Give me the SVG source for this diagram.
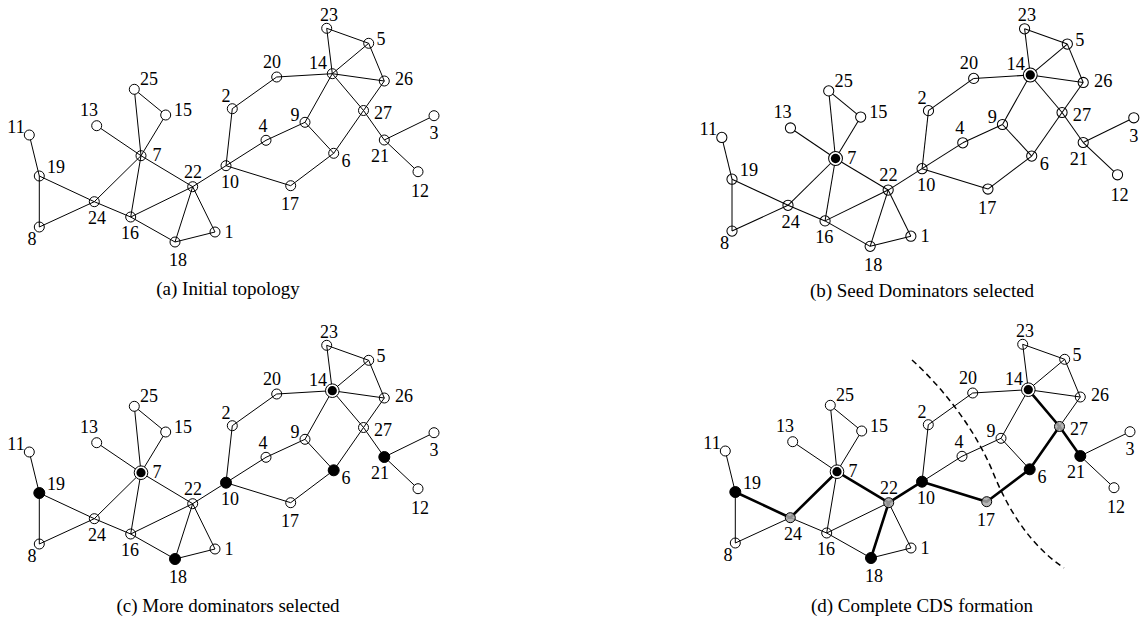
<svg xmlns="http://www.w3.org/2000/svg" xmlns:xlink="http://www.w3.org/1999/xlink" width="1140" height="621" viewBox="0 0 1140 621">
<style>
  .thick line { stroke: #000; stroke-width: 2.6; stroke-linecap: round; }
  .n circle { fill: none; stroke: #000; stroke-width: 1; }
  .n.leaf circle { fill: #fff; }
  .n.dom circle { fill: #000; }
  .n.con circle { fill: #a8a8a8; fill-opacity: 0.85; }
  .n.seed circle.ring { fill: #fff; }
  .n.seed circle.core { fill: #000; stroke: none; }
  text { font-family: "Liberation Serif", "Times New Roman", serif; fill: #000; }
  .lbl { font-size: 18px; text-anchor: middle; }
  .cap { font-size: 19px; text-anchor: middle; }
  .cut { fill: none; stroke: #000; stroke-width: 1.5; stroke-dasharray: 6 4; }
</style>
<defs>
  <!-- link set shared by every panel -->
  <g id="links" stroke="#000" stroke-width="1" fill="none">
    <line x1="29.3" y1="135" x2="39.3" y2="176"/>
    <line x1="39.3" y1="176" x2="39.3" y2="227"/>
    <line x1="39.3" y1="176" x2="94.3" y2="201.7"/>
    <line x1="39.3" y1="227" x2="94.3" y2="201.7"/>
    <line x1="94.3" y1="201.7" x2="141" y2="155.7"/>
    <line x1="94.3" y1="201.7" x2="130.7" y2="217"/>
    <line x1="96.7" y1="125.7" x2="141" y2="155.7"/>
    <line x1="134.3" y1="89.3" x2="141" y2="155.7"/>
    <line x1="134.3" y1="89.3" x2="165.7" y2="115"/>
    <line x1="165.7" y1="115" x2="141" y2="155.7"/>
    <line x1="141" y1="155.7" x2="130.7" y2="217"/>
    <line x1="141" y1="155.7" x2="192.7" y2="186.7"/>
    <line x1="130.7" y1="217" x2="192.7" y2="186.7"/>
    <line x1="130.7" y1="217" x2="175" y2="242"/>
    <line x1="192.7" y1="186.7" x2="175" y2="242"/>
    <line x1="192.7" y1="186.7" x2="215" y2="232"/>
    <line x1="175" y1="242" x2="215" y2="232"/>
    <line x1="192.7" y1="186.7" x2="226" y2="165.7"/>
    <line x1="232.3" y1="108.7" x2="226" y2="165.7"/>
    <line x1="232.3" y1="108.7" x2="276.7" y2="77"/>
    <line x1="276.7" y1="77" x2="332.3" y2="73.7"/>
    <line x1="226" y1="165.7" x2="266" y2="140.3"/>
    <line x1="266" y1="140.3" x2="305" y2="122.3"/>
    <line x1="226" y1="165.7" x2="290.7" y2="185.7"/>
    <line x1="290.7" y1="185.7" x2="333.7" y2="153.3"/>
    <line x1="305" y1="122.3" x2="333.7" y2="153.3"/>
    <line x1="305" y1="122.3" x2="332.3" y2="73.7"/>
    <line x1="332.3" y1="73.7" x2="326.7" y2="28.3"/>
    <line x1="326.7" y1="28.3" x2="368.7" y2="43.3"/>
    <line x1="368.7" y1="43.3" x2="332.3" y2="73.7"/>
    <line x1="368.7" y1="43.3" x2="384.3" y2="81"/>
    <line x1="332.3" y1="73.7" x2="384.3" y2="81"/>
    <line x1="332.3" y1="73.7" x2="363.5" y2="110.5"/>
    <line x1="363.5" y1="110.5" x2="384.3" y2="140"/>
    <line x1="384.3" y1="81" x2="363.5" y2="110.5"/>
    <line x1="363.5" y1="110.5" x2="333.7" y2="153.3"/>
    <line x1="384.3" y1="140" x2="434" y2="115.7"/>
    <line x1="384.3" y1="140" x2="418" y2="171.7"/>
  </g>
</defs>

<!-- (a) initial topology -->
<g id="panel-a">
  <g id="a-edges" class="edges"><use xlink:href="#links" href="#links"/></g>
  <g id="a-n11" class="n leaf"><circle cx="29.3" cy="135" r="5"/><text class="lbl" x="16" y="133">11</text></g>
  <g id="a-n19" class="n"><circle cx="39.3" cy="176" r="5"/><text class="lbl" x="56" y="173">19</text></g>
  <g id="a-n8" class="n"><circle cx="39.3" cy="227" r="5"/><text class="lbl" x="32" y="245">8</text></g>
  <g id="a-n24" class="n"><circle cx="94.3" cy="201.7" r="5"/><text class="lbl" x="97" y="224">24</text></g>
  <g id="a-n13" class="n leaf"><circle cx="96.7" cy="125.7" r="5"/><text class="lbl" x="89" y="116">13</text></g>
  <g id="a-n25" class="n leaf"><circle cx="134.3" cy="89.3" r="5"/><text class="lbl" x="149" y="85">25</text></g>
  <g id="a-n15" class="n leaf"><circle cx="165.7" cy="115" r="5"/><text class="lbl" x="183" y="116">15</text></g>
  <g id="a-n7" class="n"><circle cx="141" cy="155.7" r="5"/><text class="lbl" x="157" y="161">7</text></g>
  <g id="a-n16" class="n"><circle cx="130.7" cy="217" r="5"/><text class="lbl" x="130" y="239">16</text></g>
  <g id="a-n22" class="n"><circle cx="192.7" cy="186.7" r="5"/><text class="lbl" x="193" y="178">22</text></g>
  <g id="a-n18" class="n"><circle cx="175" cy="242" r="5"/><text class="lbl" x="178" y="266">18</text></g>
  <g id="a-n1" class="n"><circle cx="215" cy="232" r="5"/><text class="lbl" x="229" y="238">1</text></g>
  <g id="a-n2" class="n"><circle cx="232.3" cy="108.7" r="5"/><text class="lbl" x="226" y="102">2</text></g>
  <g id="a-n10" class="n"><circle cx="226" cy="165.7" r="5"/><text class="lbl" x="230" y="188">10</text></g>
  <g id="a-n23" class="n"><circle cx="326.7" cy="28.3" r="5"/><text class="lbl" x="329" y="21">23</text></g>
  <g id="a-n5" class="n"><circle cx="368.7" cy="43.3" r="5"/><text class="lbl" x="381" y="45">5</text></g>
  <g id="a-n20" class="n"><circle cx="276.7" cy="77" r="5"/><text class="lbl" x="272" y="68">20</text></g>
  <g id="a-n14" class="n"><circle cx="332.3" cy="73.7" r="5"/><text class="lbl" x="318" y="69">14</text></g>
  <g id="a-n26" class="n"><circle cx="384.3" cy="81" r="5"/><text class="lbl" x="404" y="85">26</text></g>
  <g id="a-n27" class="n"><circle cx="363.5" cy="110.5" r="5"/><text class="lbl" x="383" y="119">27</text></g>
  <g id="a-n3" class="n leaf"><circle cx="434" cy="115.7" r="5"/><text class="lbl" x="434" y="139">3</text></g>
  <g id="a-n9" class="n"><circle cx="305" cy="122.3" r="5"/><text class="lbl" x="295" y="121">9</text></g>
  <g id="a-n4" class="n"><circle cx="266" cy="140.3" r="5"/><text class="lbl" x="263" y="132">4</text></g>
  <g id="a-n21" class="n"><circle cx="384.3" cy="140" r="5"/><text class="lbl" x="380" y="162">21</text></g>
  <g id="a-n6" class="n"><circle cx="333.7" cy="153.3" r="5"/><text class="lbl" x="346" y="167">6</text></g>
  <g id="a-n17" class="n"><circle cx="290.7" cy="185.7" r="5"/><text class="lbl" x="290" y="210">17</text></g>
  <g id="a-n12" class="n leaf"><circle cx="418" cy="171.7" r="5"/><text class="lbl" x="420" y="197">12</text></g>
</g>

<!-- (b) seed dominators -->
<g id="panel-b" transform="translate(692,0) scale(1.018)">
  <g id="b-edges" class="edges"><use xlink:href="#links" href="#links"/></g>
  <g id="b-n11" class="n leaf"><circle cx="29.3" cy="135" r="5"/><text class="lbl" x="16" y="133">11</text></g>
  <g id="b-n19" class="n"><circle cx="39.3" cy="176" r="5"/><text class="lbl" x="56" y="173">19</text></g>
  <g id="b-n8" class="n"><circle cx="39.3" cy="227" r="5"/><text class="lbl" x="32" y="245">8</text></g>
  <g id="b-n24" class="n"><circle cx="94.3" cy="201.7" r="5"/><text class="lbl" x="97" y="224">24</text></g>
  <g id="b-n13" class="n leaf"><circle cx="96.7" cy="125.7" r="5"/><text class="lbl" x="89" y="116">13</text></g>
  <g id="b-n25" class="n leaf"><circle cx="134.3" cy="89.3" r="5"/><text class="lbl" x="149" y="85">25</text></g>
  <g id="b-n15" class="n leaf"><circle cx="165.7" cy="115" r="5"/><text class="lbl" x="183" y="116">15</text></g>
  <g id="b-n7" class="n seed"><circle class="ring" cx="141" cy="155.7" r="6.8"/><circle class="core" cx="141" cy="155.7" r="4.6"/><text class="lbl" x="157" y="161">7</text></g>
  <g id="b-n16" class="n"><circle cx="130.7" cy="217" r="5"/><text class="lbl" x="130" y="239">16</text></g>
  <g id="b-n22" class="n"><circle cx="192.7" cy="186.7" r="5"/><text class="lbl" x="193" y="178">22</text></g>
  <g id="b-n18" class="n"><circle cx="175" cy="242" r="5"/><text class="lbl" x="178" y="266">18</text></g>
  <g id="b-n1" class="n"><circle cx="215" cy="232" r="5"/><text class="lbl" x="229" y="238">1</text></g>
  <g id="b-n2" class="n"><circle cx="232.3" cy="108.7" r="5"/><text class="lbl" x="226" y="102">2</text></g>
  <g id="b-n10" class="n"><circle cx="226" cy="165.7" r="5"/><text class="lbl" x="230" y="188">10</text></g>
  <g id="b-n23" class="n"><circle cx="326.7" cy="28.3" r="5"/><text class="lbl" x="329" y="21">23</text></g>
  <g id="b-n5" class="n"><circle cx="368.7" cy="43.3" r="5"/><text class="lbl" x="381" y="45">5</text></g>
  <g id="b-n20" class="n"><circle cx="276.7" cy="77" r="5"/><text class="lbl" x="272" y="68">20</text></g>
  <g id="b-n14" class="n seed"><circle class="ring" cx="332.3" cy="73.7" r="6.8"/><circle class="core" cx="332.3" cy="73.7" r="4.6"/><text class="lbl" x="318" y="69">14</text></g>
  <g id="b-n26" class="n"><circle cx="384.3" cy="81" r="5"/><text class="lbl" x="404" y="85">26</text></g>
  <g id="b-n27" class="n"><circle cx="363.5" cy="110.5" r="5"/><text class="lbl" x="383" y="119">27</text></g>
  <g id="b-n3" class="n leaf"><circle cx="434" cy="115.7" r="5"/><text class="lbl" x="434" y="139">3</text></g>
  <g id="b-n9" class="n"><circle cx="305" cy="122.3" r="5"/><text class="lbl" x="295" y="121">9</text></g>
  <g id="b-n4" class="n"><circle cx="266" cy="140.3" r="5"/><text class="lbl" x="263" y="132">4</text></g>
  <g id="b-n21" class="n"><circle cx="384.3" cy="140" r="5"/><text class="lbl" x="380" y="162">21</text></g>
  <g id="b-n6" class="n"><circle cx="333.7" cy="153.3" r="5"/><text class="lbl" x="346" y="167">6</text></g>
  <g id="b-n17" class="n"><circle cx="290.7" cy="185.7" r="5"/><text class="lbl" x="290" y="210">17</text></g>
  <g id="b-n12" class="n leaf"><circle cx="418" cy="171.7" r="5"/><text class="lbl" x="420" y="197">12</text></g>
</g>

<!-- (c) more dominators -->
<g id="panel-c" transform="translate(0,317)">
  <g id="c-edges" class="edges"><use xlink:href="#links" href="#links"/></g>
  <g id="c-n11" class="n leaf"><circle cx="29.3" cy="135" r="5"/><text class="lbl" x="16" y="133">11</text></g>
  <g id="c-n19" class="n dom"><circle cx="39.3" cy="176" r="5.5"/><text class="lbl" x="56" y="173">19</text></g>
  <g id="c-n8" class="n"><circle cx="39.3" cy="227" r="5"/><text class="lbl" x="32" y="245">8</text></g>
  <g id="c-n24" class="n"><circle cx="94.3" cy="201.7" r="5"/><text class="lbl" x="97" y="224">24</text></g>
  <g id="c-n13" class="n leaf"><circle cx="96.7" cy="125.7" r="5"/><text class="lbl" x="89" y="116">13</text></g>
  <g id="c-n25" class="n leaf"><circle cx="134.3" cy="89.3" r="5"/><text class="lbl" x="149" y="85">25</text></g>
  <g id="c-n15" class="n leaf"><circle cx="165.7" cy="115" r="5"/><text class="lbl" x="183" y="116">15</text></g>
  <g id="c-n7" class="n seed"><circle class="ring" cx="141" cy="155.7" r="6.8"/><circle class="core" cx="141" cy="155.7" r="4.6"/><text class="lbl" x="157" y="161">7</text></g>
  <g id="c-n16" class="n"><circle cx="130.7" cy="217" r="5"/><text class="lbl" x="130" y="239">16</text></g>
  <g id="c-n22" class="n"><circle cx="192.7" cy="186.7" r="5"/><text class="lbl" x="193" y="178">22</text></g>
  <g id="c-n18" class="n dom"><circle cx="175" cy="242" r="5.5"/><text class="lbl" x="178" y="266">18</text></g>
  <g id="c-n1" class="n"><circle cx="215" cy="232" r="5"/><text class="lbl" x="229" y="238">1</text></g>
  <g id="c-n2" class="n"><circle cx="232.3" cy="108.7" r="5"/><text class="lbl" x="226" y="102">2</text></g>
  <g id="c-n10" class="n dom"><circle cx="226" cy="165.7" r="5.5"/><text class="lbl" x="230" y="188">10</text></g>
  <g id="c-n23" class="n"><circle cx="326.7" cy="28.3" r="5"/><text class="lbl" x="329" y="21">23</text></g>
  <g id="c-n5" class="n"><circle cx="368.7" cy="43.3" r="5"/><text class="lbl" x="381" y="45">5</text></g>
  <g id="c-n20" class="n"><circle cx="276.7" cy="77" r="5"/><text class="lbl" x="272" y="68">20</text></g>
  <g id="c-n14" class="n seed"><circle class="ring" cx="332.3" cy="73.7" r="6.8"/><circle class="core" cx="332.3" cy="73.7" r="4.6"/><text class="lbl" x="318" y="69">14</text></g>
  <g id="c-n26" class="n"><circle cx="384.3" cy="81" r="5"/><text class="lbl" x="404" y="85">26</text></g>
  <g id="c-n27" class="n"><circle cx="363.5" cy="110.5" r="5"/><text class="lbl" x="383" y="119">27</text></g>
  <g id="c-n3" class="n leaf"><circle cx="434" cy="115.7" r="5"/><text class="lbl" x="434" y="139">3</text></g>
  <g id="c-n9" class="n"><circle cx="305" cy="122.3" r="5"/><text class="lbl" x="295" y="121">9</text></g>
  <g id="c-n4" class="n"><circle cx="266" cy="140.3" r="5"/><text class="lbl" x="263" y="132">4</text></g>
  <g id="c-n21" class="n dom"><circle cx="384.3" cy="140" r="5.5"/><text class="lbl" x="380" y="162">21</text></g>
  <g id="c-n6" class="n dom"><circle cx="333.7" cy="153.3" r="5.5"/><text class="lbl" x="346" y="167">6</text></g>
  <g id="c-n17" class="n"><circle cx="290.7" cy="185.7" r="5"/><text class="lbl" x="290" y="210">17</text></g>
  <g id="c-n12" class="n leaf"><circle cx="418" cy="171.7" r="5"/><text class="lbl" x="420" y="197">12</text></g>
</g>

<!-- (d) complete connected dominating set -->
<g id="panel-d" transform="translate(696,316)">
  <g id="d-edges" class="edges"><use xlink:href="#links" href="#links"/></g>
  <g id="d-backbone" class="thick">
    <line x1="39.3" y1="176" x2="94.3" y2="201.7"/>
    <line x1="94.3" y1="201.7" x2="141" y2="155.7"/>
    <line x1="141" y1="155.7" x2="192.7" y2="186.7"/>
    <line x1="192.7" y1="186.7" x2="175" y2="242"/>
    <line x1="192.7" y1="186.7" x2="226" y2="165.7"/>
    <line x1="226" y1="165.7" x2="290.7" y2="185.7"/>
    <line x1="290.7" y1="185.7" x2="333.7" y2="153.3"/>
    <line x1="333.7" y1="153.3" x2="363.5" y2="110.5"/>
    <line x1="363.5" y1="110.5" x2="332.3" y2="73.7"/>
    <line x1="363.5" y1="110.5" x2="384.3" y2="140"/>
  </g>
  <path id="d-cut" class="cut" d="M216,44 C249,74 279,114 296,154 C312,194 334,229 368,252"/>
  <g id="d-n11" class="n leaf"><circle cx="29.3" cy="135" r="5"/><text class="lbl" x="16" y="133">11</text></g>
  <g id="d-n19" class="n dom"><circle cx="39.3" cy="176" r="5.5"/><text class="lbl" x="56" y="173">19</text></g>
  <g id="d-n8" class="n"><circle cx="39.3" cy="227" r="5"/><text class="lbl" x="32" y="245">8</text></g>
  <g id="d-n24" class="n con"><circle cx="94.3" cy="201.7" r="5"/><text class="lbl" x="97" y="224">24</text></g>
  <g id="d-n13" class="n leaf"><circle cx="96.7" cy="125.7" r="5"/><text class="lbl" x="89" y="116">13</text></g>
  <g id="d-n25" class="n leaf"><circle cx="134.3" cy="89.3" r="5"/><text class="lbl" x="149" y="85">25</text></g>
  <g id="d-n15" class="n leaf"><circle cx="165.7" cy="115" r="5"/><text class="lbl" x="183" y="116">15</text></g>
  <g id="d-n7" class="n seed"><circle class="ring" cx="141" cy="155.7" r="6.8"/><circle class="core" cx="141" cy="155.7" r="4.6"/><text class="lbl" x="157" y="161">7</text></g>
  <g id="d-n16" class="n"><circle cx="130.7" cy="217" r="5"/><text class="lbl" x="130" y="239">16</text></g>
  <g id="d-n22" class="n con"><circle cx="192.7" cy="186.7" r="5"/><text class="lbl" x="193" y="178">22</text></g>
  <g id="d-n18" class="n dom"><circle cx="175" cy="242" r="5.5"/><text class="lbl" x="178" y="266">18</text></g>
  <g id="d-n1" class="n"><circle cx="215" cy="232" r="5"/><text class="lbl" x="229" y="238">1</text></g>
  <g id="d-n2" class="n"><circle cx="232.3" cy="108.7" r="5"/><text class="lbl" x="226" y="102">2</text></g>
  <g id="d-n10" class="n dom"><circle cx="226" cy="165.7" r="5.5"/><text class="lbl" x="230" y="188">10</text></g>
  <g id="d-n23" class="n"><circle cx="326.7" cy="28.3" r="5"/><text class="lbl" x="329" y="21">23</text></g>
  <g id="d-n5" class="n"><circle cx="368.7" cy="43.3" r="5"/><text class="lbl" x="381" y="45">5</text></g>
  <g id="d-n20" class="n"><circle cx="276.7" cy="77" r="5"/><text class="lbl" x="272" y="68">20</text></g>
  <g id="d-n14" class="n seed"><circle class="ring" cx="332.3" cy="73.7" r="6.8"/><circle class="core" cx="332.3" cy="73.7" r="4.6"/><text class="lbl" x="318" y="69">14</text></g>
  <g id="d-n26" class="n"><circle cx="384.3" cy="81" r="5"/><text class="lbl" x="404" y="85">26</text></g>
  <g id="d-n27" class="n con"><circle cx="363.5" cy="110.5" r="5"/><text class="lbl" x="383" y="119">27</text></g>
  <g id="d-n3" class="n leaf"><circle cx="434" cy="115.7" r="5"/><text class="lbl" x="434" y="139">3</text></g>
  <g id="d-n9" class="n"><circle cx="305" cy="122.3" r="5"/><text class="lbl" x="295" y="121">9</text></g>
  <g id="d-n4" class="n"><circle cx="266" cy="140.3" r="5"/><text class="lbl" x="263" y="132">4</text></g>
  <g id="d-n21" class="n dom"><circle cx="384.3" cy="140" r="5.5"/><text class="lbl" x="380" y="162">21</text></g>
  <g id="d-n6" class="n dom"><circle cx="333.7" cy="153.3" r="5.5"/><text class="lbl" x="346" y="167">6</text></g>
  <g id="d-n17" class="n con"><circle cx="290.7" cy="185.7" r="5"/><text class="lbl" x="290" y="210">17</text></g>
  <g id="d-n12" class="n leaf"><circle cx="418" cy="171.7" r="5"/><text class="lbl" x="420" y="197">12</text></g>
</g>

<!-- panel captions -->
<g id="captions">
  <text class="cap" x="228" y="295">(a) Initial topology</text>
  <text class="cap" x="922" y="297">(b) Seed Dominators selected</text>
  <text class="cap" x="228" y="612">(c) More dominators selected</text>
  <text class="cap" x="922" y="612">(d) Complete CDS formation</text>
</g>
</svg>
